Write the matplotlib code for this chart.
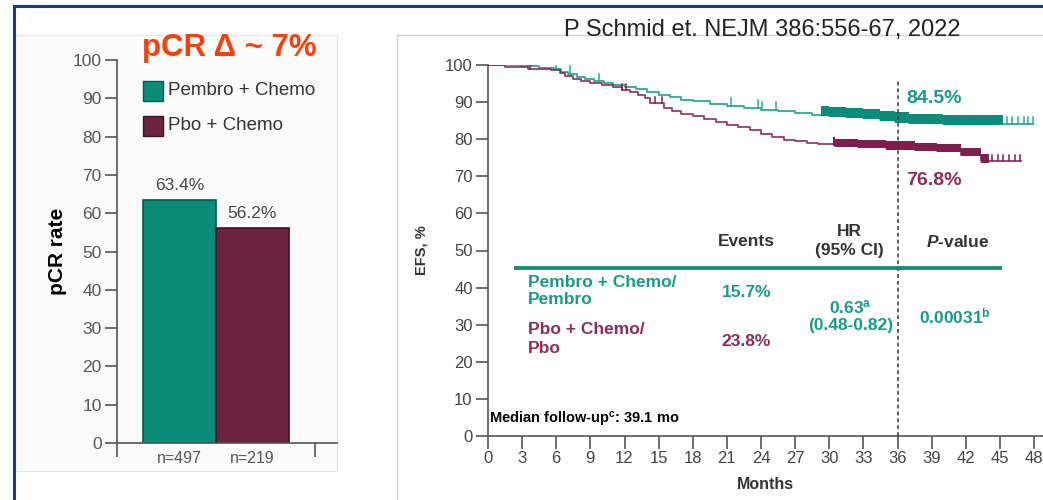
import matplotlib
matplotlib.use("Agg")
import matplotlib.pyplot as plt
from matplotlib.patches import Rectangle
from matplotlib.lines import Line2D

plt.rcParams['font.family'] = ['Liberation Sans', 'DejaVu Sans']
plt.rcParams['mathtext.fontset'] = 'custom'
plt.rcParams['mathtext.rm'] = 'Liberation Sans:bold'
plt.rcParams['mathtext.it'] = 'Liberation Sans:bold:italic'

# ---------------- data: pCR bar chart ----------------
bar_groups = ["Pembro + Chemo", "Pbo + Chemo"]
bar_values = [63.4, 56.2]
bar_labels = ["63.4%", "56.2%"]
bar_n = ["n=497", "n=219"]
bar_yticks = [0, 10, 20, 30, 40, 50, 60, 70, 80, 90, 100]

# ---------------- data: EFS Kaplan-Meier ----------------
pem_t = [0, 2.8, 4.5, 5.8, 6.4, 7.0, 7.8, 8.5, 9.3, 10.2, 11.0, 12.0, 13.0, 14.0,
         15.0, 16.0, 17.0, 18.0, 19.5, 21.0, 22.5, 24.0, 25.5, 27.0, 28.5, 30.0,
         31.5, 33.0, 34.5, 35.8, 37.0, 38.5, 40.0, 42.0, 47.9]
pem_s = [100, 99.6, 99.3, 98.9, 98.2, 97.6, 96.9, 96.3, 95.7, 95.2, 94.6, 94.1,
         93.4, 92.8, 92.0, 91.4, 90.7, 90.2, 89.6, 89.0, 88.5, 88.0, 87.5, 87.0,
         86.6, 86.3, 86.0, 85.7, 85.3, 84.8, 84.5, 84.3, 84.1, 84.0, 84.0]
pbo_t = [0, 1.5, 3.5, 5.5, 6.3, 6.8, 7.5, 8.2, 9.0, 10.0, 11.0, 11.8, 12.5, 13.2,
         13.8, 14.2, 15.5, 16.2, 17.0, 18.0, 19.0, 20.0, 21.0, 22.0, 23.0, 24.0,
         25.0, 26.0, 27.0, 28.0, 29.0, 30.5, 32.5, 35.0, 37.5, 39.5, 41.6, 43.3, 46.9]
pbo_s = [100, 99.4, 99.0, 98.7, 97.8, 97.0, 96.3, 95.6, 95.1, 94.5, 94.0, 93.3,
         92.6, 91.9, 91.0, 89.7, 88.4, 87.6, 86.9, 86.2, 85.4, 84.6, 83.9, 83.3,
         82.4, 81.5, 80.6, 79.9, 79.5, 79.0, 78.6, 78.2, 77.8, 77.5, 77.1, 76.8,
         75.8, 74.0, 74.0]
pem_censor = [2.7, 6.0, 7.2, 9.8, 21.4, 23.7, 24.1, 25.3, 45.6, 46.1, 46.6, 47.1, 47.5, 47.9]
pbo_censor = [3.7, 11.8, 12.1, 14.7, 15.3, 44.3, 44.8, 45.3, 45.8, 46.3, 46.8]
pem_band = (29.3, 45.3)
pbo_band = (30.3, 44.0)
month_ticks = [0, 3, 6, 9, 12, 15, 18, 21, 24, 27, 30, 33, 36, 39, 42, 45, 48]
efs_ticks = [0, 10, 20, 30, 40, 50, 60, 70, 80, 90, 100]
landmark_month = 36
landmark_labels = ["84.5%", "76.8%"]

TEAL = "#0b8c7b"
TEAL_TXT = "#1a9a86"
TEAL_LINE = "#2fa892"
MAROON = "#6c2340"
MAROON_CURVE = "#7e1f4f"
MAROON_TXT = "#8b2d57"
GRAY = "#444444"

W, H = 1043, 500
fig = plt.figure(figsize=(W / 100, H / 100), dpi=100)
fig.patch.set_facecolor("white")

def fx(px):
    return px / W

def fy(py):
    return 1 - py / H

# panel backgrounds
fig.add_artist(Rectangle((fx(15), fy(471)), fx(337) - fx(15), fy(35) - fy(471),
                         transform=fig.transFigure, facecolor="#fbfbfb",
                         edgecolor="#e4e4e4", lw=0.8, zorder=0))
fig.add_artist(Line2D([fx(397), fx(397)], [fy(35), 0], transform=fig.transFigure,
                      color="#d0d0d0", lw=1.0, zorder=0))
fig.add_artist(Line2D([fx(397), 1], [fy(35), fy(35)], transform=fig.transFigure,
                      color="#d0d0d0", lw=1.0, zorder=0))
# slide border
fig.add_artist(Line2D([fx(14), 1], [fy(5.5), fy(5.5)], transform=fig.transFigure,
                      color="#1b3b7a", lw=2.2, zorder=5))
fig.add_artist(Line2D([fx(14), fx(14)], [fy(5.5), 0], transform=fig.transFigure,
                      color="#1b3b7a", lw=2.2, zorder=5))

# ---------------- left: bar chart ----------------
ax1 = fig.add_axes([fx(117), fy(443), fx(337) - fx(117), fy(60) - fy(443)])
ax1.patch.set_alpha(0)
bar_colors = [TEAL, MAROON]
edge_colors = ["#06574c", "#3f1226"]
xpos = [0, 1]
ax1.bar(xpos, bar_values, width=1.0, color=bar_colors, edgecolor=edge_colors, lw=1.2, zorder=2)
for x, v, lab in zip(xpos, bar_values, bar_labels):
    ax1.text(x, v + 1.8, lab, ha="center", va="bottom", fontsize=12.5, color=GRAY)
ax1.set_xlim(-0.856, 2.158)
ax1.set_ylim(0, 100)
ax1.set_yticks(bar_yticks)
ax1.tick_params(axis="y", direction="out", length=9, width=1.2, color="#555555",
                labelsize=12.5, labelcolor="#555555", pad=2)
ax1.set_xticks([-0.856, 1.856])
ax1.set_xticklabels([])
ax1.tick_params(axis="x", direction="out", length=10, width=1.2, color="#555555")
for x, n in zip(xpos, bar_n):
    ax1.text(x, -2.2, n, ha="center", va="top", fontsize=11.5, color="#555555")
for s in ["top", "right"]:
    ax1.spines[s].set_visible(False)
for s in ["left", "bottom"]:
    ax1.spines[s].set_color("#555555")
    ax1.spines[s].set_linewidth(1.2)
ax1.set_ylabel("pCR rate", fontsize=15, fontweight="bold", color="black", labelpad=4)

fig.text(fx(229), fy(48), "pCR \u0394 ~ 7%", ha="center", va="center",
         fontsize=22.5, fontweight="bold", color="#f5400f")
# legend
for i, (g, c, ec) in enumerate(zip(bar_groups, bar_colors, edge_colors)):
    top = 81 + 35 * i
    fig.add_artist(Rectangle((fx(143), fy(top + 20)), fx(20), 20 / H,
                             transform=fig.transFigure, facecolor=c, edgecolor=ec, lw=1))
    fig.text(fx(168), fy(top + 10), g, ha="left", va="center", fontsize=13.5, color="#333333")

# ---------------- right: EFS KM ----------------
ax2 = fig.add_axes([fx(488), fy(436), 1 - fx(488), fy(65) - fy(436)])
ax2.patch.set_alpha(0)
ax2.set_xlim(0, (W - 488) / 11.375)
ax2.set_ylim(0, 100)

ax2.step(pem_t, pem_s, where="post", color=TEAL_LINE, lw=1.3, zorder=3)
ax2.step(pbo_t, pbo_s, where="post", color=MAROON_CURVE, lw=1.3, alpha=0.85, zorder=3)

def surv_at(ts, ss, t):
    val = ss[0]
    for ti, si in zip(ts, ss):
        if ti <= t:
            val = si
    return val

# dense censoring bands
for ts, ss, band, col, hgt in [(pem_t, pem_s, pem_band, TEAL, 2.4),
                               (pbo_t, pbo_s, pbo_band, MAROON_CURVE, 1.9)]:
    xs = [band[0]] + [t for t in ts if band[0] < t < band[1]] + [band[1]]
    ys = [surv_at(ts, ss, x) for x in xs]
    ax2.fill_between(xs, [y - 0.3 for y in ys], [y + hgt for y in ys], step="post",
                     color=col, lw=0, zorder=4)

for cens, ts, ss, col, hgt in [(pem_censor, pem_t, pem_s, TEAL_LINE, 2.0),
                               (pbo_censor, pbo_t, pbo_s, MAROON_CURVE, 1.7)]:
    for c in cens:
        y = surv_at(ts, ss, c)
        ax2.plot([c, c], [y, y + hgt], color=col, lw=1.1, zorder=4)

ax2.plot([landmark_month, landmark_month], [0, 96], color="#333333", lw=1.1,
         ls=(0, (2.5, 2)), zorder=5)
ax2.text(36.8, 91.1, landmark_labels[0], ha="left", va="center", fontsize=14,
         fontweight="bold", color=TEAL_TXT)
ax2.text(36.8, 69.0, landmark_labels[1], ha="left", va="center", fontsize=14,
         fontweight="bold", color=MAROON_TXT)

ax2.set_xticks(month_ticks)
ax2.set_yticks(efs_ticks)
ax2.tick_params(direction="out", length=9, width=1.2, color="#555555",
                labelsize=12, labelcolor="#444444")
ax2.tick_params(axis="x", pad=2)
ax2.tick_params(axis="y", pad=2)
for s in ["top", "right"]:
    ax2.spines[s].set_visible(False)
for s in ["left", "bottom"]:
    ax2.spines[s].set_color("#555555")
    ax2.spines[s].set_linewidth(1.2)
ax2.set_xlabel("Months", fontsize=11.5, fontweight="bold", color="#333333", labelpad=8)
ax2.set_ylabel("EFS, %", fontsize=10.5, fontweight="bold", color="#333333", labelpad=12)

# table inside plot
ax2.plot([2.5, 45.0], [45.3, 45.3], color="#1b8b78", lw=2.8, zorder=5)
tk = dict(fontsize=12.5, fontweight="bold", ha="center", va="center")
ax2.text(22.7, 52.3, "Events", color="#333333", **tk)
ax2.text(31.8, 55.0, "HR", color="#333333", **tk)
ax2.text(31.8, 49.9, "(95% CI)", color="#333333", **tk)
ax2.text(41.3, 52.3, r"$\it{P}$-value", color="#333333", **tk)
lk = dict(fontsize=12.5, fontweight="bold", ha="left", va="center")
ax2.text(3.5, 41.5, "Pembro + Chemo/", color=TEAL_TXT, **lk)
ax2.text(3.5, 36.9, "Pembro", color=TEAL_TXT, **lk)
ax2.text(3.5, 28.6, "Pbo + Chemo/", color=MAROON_TXT, **lk)
ax2.text(3.5, 23.7, "Pbo", color=MAROON_TXT, **lk)
ax2.text(22.7, 38.8, "15.7%", color=TEAL_TXT, **tk)
ax2.text(22.7, 25.6, "23.8%", color=MAROON_TXT, **tk)
ax2.text(31.9, 34.8, r"0.63$^{\mathrm{a}}$", color=TEAL_TXT, **tk)
ax2.text(31.9, 29.9, "(0.48-0.82)", color=TEAL_TXT, **tk)
ax2.text(41.05, 32.3, r"0.00031$^{\mathrm{b}}$", color=TEAL_TXT, **tk)
ax2.text(0.1, 4.5, r"Median follow-up$^{\mathrm{c}}$: 39.1 mo", color="black",
         fontsize=10.5, fontweight="bold", ha="left", va="center")

fig.text(fx(762), fy(30), "P Schmid et. NEJM 386:556-67, 2022", ha="center",
         va="center", fontsize=17, color="#222222")

fig.savefig("out.png", dpi=100)
